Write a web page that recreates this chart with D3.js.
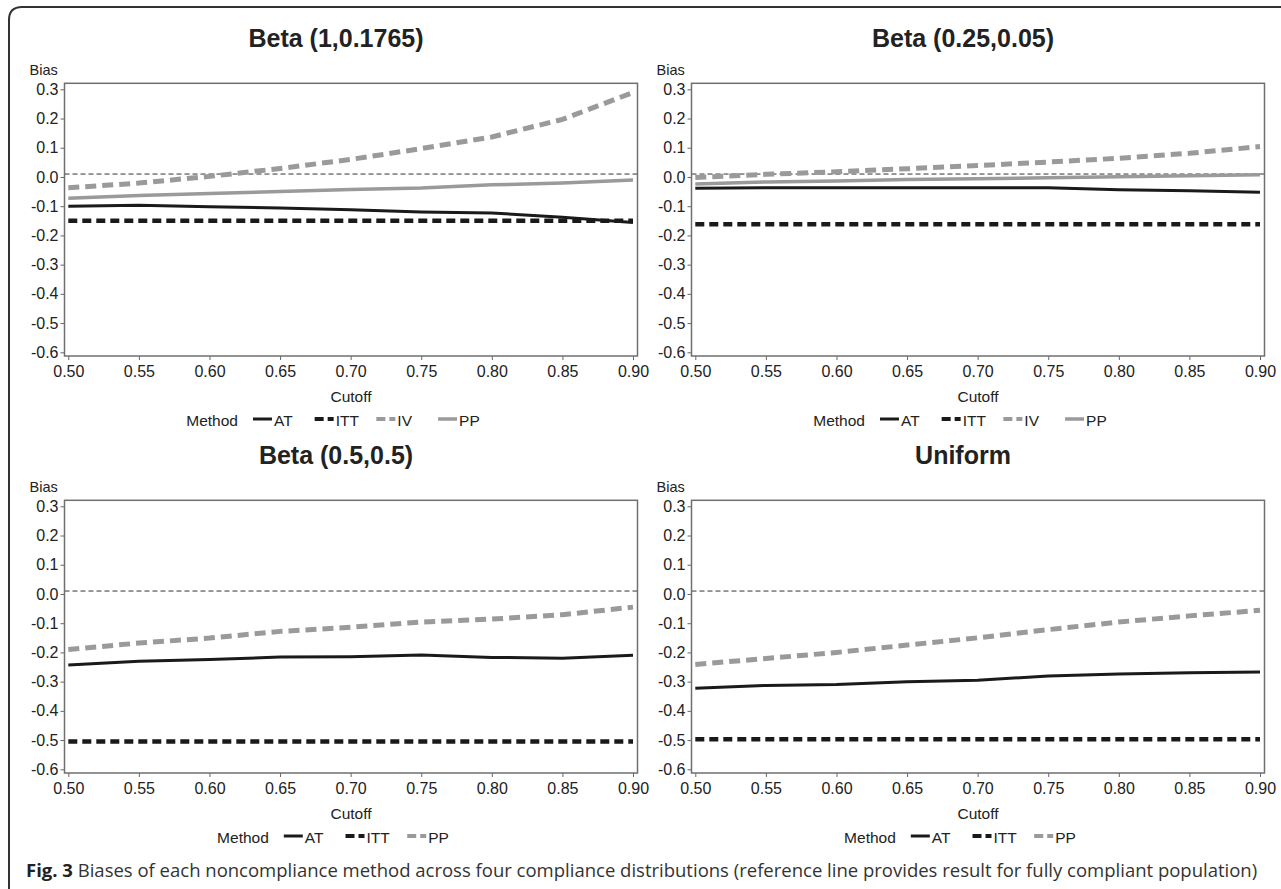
<!DOCTYPE html>
<html>
<head>
<meta charset="utf-8">
<script src="https://cdn.jsdelivr.net/npm/d3@7"></script>
<style>
  body { margin: 0; background: #fff; }
  svg { display: block; }
  text { font-family: "Liberation Sans", Arial, sans-serif; fill: #222; }
</style>
</head>
<body>
<script>
  // data
  const cutoffs = [0.50, 0.55, 0.60, 0.65, 0.70, 0.75, 0.80, 0.85, 0.90];
  const yTicks = [0.3, 0.2, 0.1, 0.0, -0.1, -0.2, -0.3, -0.4, -0.5, -0.6];
  const titles = ["Beta (1,0.1765)", "Beta (0.25,0.05)", "Beta (0.5,0.5)", "Uniform"];
  const referenceBias = 0.01;

  const atBeta1 = [-0.100, -0.097, -0.102, -0.106, -0.112, -0.120, -0.123, -0.138, -0.156];
  const ittBeta1 = [-0.15, -0.15, -0.15, -0.15, -0.15, -0.15, -0.15, -0.15, -0.15];
  const ivBeta1 = [-0.037, -0.021, 0.002, 0.029, 0.060, 0.097, 0.137, 0.197, 0.289];
  const ppBeta1 = [-0.073, -0.063, -0.057, -0.050, -0.043, -0.038, -0.027, -0.021, -0.010];

  const atBeta2 = [-0.039, -0.037, -0.037, -0.037, -0.037, -0.037, -0.044, -0.047, -0.052];
  const ittBeta2 = [-0.162, -0.162, -0.162, -0.162, -0.162, -0.162, -0.162, -0.162, -0.162];
  const ivBeta2 = [-0.002, 0.009, 0.018, 0.028, 0.039, 0.051, 0.064, 0.081, 0.104];
  const ppBeta2 = [-0.024, -0.017, -0.014, -0.009, -0.006, -0.003, 0.001, 0.004, 0.008];

  const atBeta3 = [-0.243, -0.230, -0.224, -0.216, -0.215, -0.209, -0.217, -0.220, -0.210];
  const ittBeta3 = [-0.505, -0.505, -0.505, -0.505, -0.505, -0.505, -0.505, -0.505, -0.505];
  const ppBeta3 = [-0.190, -0.168, -0.151, -0.128, -0.114, -0.096, -0.086, -0.071, -0.045];

  const atUnif = [-0.323, -0.313, -0.310, -0.300, -0.295, -0.281, -0.274, -0.270, -0.267];
  const ittUnif = [-0.497, -0.497, -0.497, -0.497, -0.497, -0.497, -0.497, -0.497, -0.497];
  const ppUnif = [-0.241, -0.221, -0.200, -0.175, -0.150, -0.122, -0.096, -0.075, -0.056];

  const panels = [
    { title: titles[0], series: [["AT", atBeta1], ["ITT", ittBeta1], ["IV", ivBeta1], ["PP", ppBeta1]] },
    { title: titles[1], series: [["AT", atBeta2], ["ITT", ittBeta2], ["IV", ivBeta2], ["PP", ppBeta2]] },
    { title: titles[2], series: [["AT", atBeta3], ["ITT", ittBeta3], ["PP", ppBeta3]] },
    { title: titles[3], series: [["AT", atUnif], ["ITT", ittUnif], ["PP", ppUnif]] }
  ];

  // group styles go by position in the group list, as in the original plots
  const styles = [
    { color: "#1a1a1a", width: 3,   dash: null,   legDash: null,  legWidth: 3 },
    { color: "#1a1a1a", width: 4.5, dash: "9,5",  legDash: "9,4", legWidth: 4 },
    { color: "#9a9a9a", width: 5,   dash: "11,6", legDash: "9,4", legWidth: 4 },
    { color: "#9a9a9a", width: 3.5, dash: null,   legDash: null,  legWidth: 3.5 }
  ];

  const W = 1281, H = 889;
  const offsets = [[0, 0], [627, 0], [0, 417], [627, 417]];
  const frame = { left: 64.5, right: 637.5, top: 83.3, bottom: 356 };

  const svg = d3.select("body").append("svg")
    .attr("width", W)
    .attr("height", H);

  // figure border (top and left, rounded corner)
  svg.append("path")
    .attr("d", "M9,889 L9,20 Q9,7 22,7 L1281,7")
    .attr("fill", "none")
    .attr("stroke", "#333")
    .attr("stroke-width", 2);

  const x = d3.scaleLinear().domain([0.5, 0.9]).range([68.3, 633]);
  const y = d3.scaleLinear().domain([-0.6, 0.3]).range([352.3, 89.3]);

  const line = d3.line()
    .x((d, i) => x(cutoffs[i]))
    .y(d => y(d));

  panels.forEach((p, k) => {
    const g = svg.append("g")
      .attr("transform", `translate(${offsets[k][0]},${offsets[k][1]})`);

    g.append("text")
      .attr("x", 336).attr("y", 46.7)
      .attr("text-anchor", "middle")
      .style("font-size", "25px")
      .style("font-weight", "bold")
      .text(p.title);

    g.append("text")
      .attr("x", 29.5).attr("y", 75)
      .style("font-size", "14.5px")
      .text("Bias");

    // axes
    const yAxis = g.append("g")
      .attr("transform", `translate(${frame.left},0)`)
      .call(d3.axisLeft(y).tickValues(yTicks).tickSize(4).tickPadding(2)
        .tickFormat(d => d.toFixed(1)));
    const xAxis = g.append("g")
      .attr("transform", `translate(0,${frame.bottom})`)
      .call(d3.axisBottom(x).tickValues(cutoffs).tickSize(4).tickPadding(6)
        .tickFormat(d => d.toFixed(2)));
    [yAxis, xAxis].forEach(a => {
      a.select(".domain").remove();
      a.selectAll(".tick line").attr("stroke", "#666");
      a.selectAll(".tick text")
        .style("font-size", "16px")
        .style("font-family", "'Liberation Sans', Arial, sans-serif")
        .attr("fill", "#222");
    });

    // reference line
    g.append("line")
      .attr("x1", frame.left).attr("x2", frame.right)
      .attr("y1", y(referenceBias)).attr("y2", y(referenceBias))
      .attr("stroke", "#333")
      .attr("stroke-width", 1)
      .attr("stroke-dasharray", "5,3");

    // series, drawn last-first so AT sits on top
    p.series.map((s, i) => [s, styles[i]]).reverse().forEach(([[name, vals], s]) => {
      g.append("path")
        .datum(vals)
        .attr("d", line)
        .attr("fill", "none")
        .attr("stroke", s.color)
        .attr("stroke-width", s.width)
        .attr("stroke-dasharray", s.dash);
    });

    g.append("rect")
      .attr("x", frame.left).attr("y", frame.top)
      .attr("width", frame.right - frame.left)
      .attr("height", frame.bottom - frame.top)
      .attr("fill", "none")
      .attr("stroke", "#6f6f6f")
      .attr("stroke-width", 1.5);

    g.append("text")
      .attr("x", 351).attr("y", 401.5)
      .attr("text-anchor", "middle")
      .style("font-size", "15.5px")
      .text("Cutoff");

    // legend
    const leg = g.append("g");
    const method = leg.append("text")
      .attr("x", 0).attr("y", 0)
      .style("font-size", "15.5px")
      .text("Method");
    let cx = method.node().getComputedTextLength() + 15;
    p.series.forEach(([name], i) => {
      const s = styles[i];
      leg.append("line")
        .attr("x1", cx).attr("x2", cx + 19)
        .attr("y1", -6.5).attr("y2", -6.5)
        .attr("stroke", s.color)
        .attr("stroke-width", s.legWidth)
        .attr("stroke-dasharray", s.legDash);
      const t = leg.append("text")
        .attr("x", cx + 21).attr("y", 0)
        .style("font-size", "15.5px")
        .text(name);
      if (i < p.series.length - 1) cx += 61.7;
      else cx += 21 + t.node().getComputedTextLength();
    });
    leg.attr("transform", `translate(${333 - cx / 2},425.5)`);
  });

  // caption
  const cap = svg.append("text")
    .attr("x", 26).attr("y", 877)
    .style("font-family", "'Open Sans', 'Noto Sans', sans-serif")
    .style("font-size", "17px");
  cap.append("tspan").style("font-weight", "bold").text("Fig. 3");
  cap.append("tspan").attr("fill", "#333")
    .text(" Biases of each noncompliance method across four compliance distributions (reference line provides result for fully compliant population)");
  const capW = cap.node().getComputedTextLength();
  cap.style("font-size", (17 * 1232 / capW).toFixed(2) + "px");
</script>
</body>
</html>
